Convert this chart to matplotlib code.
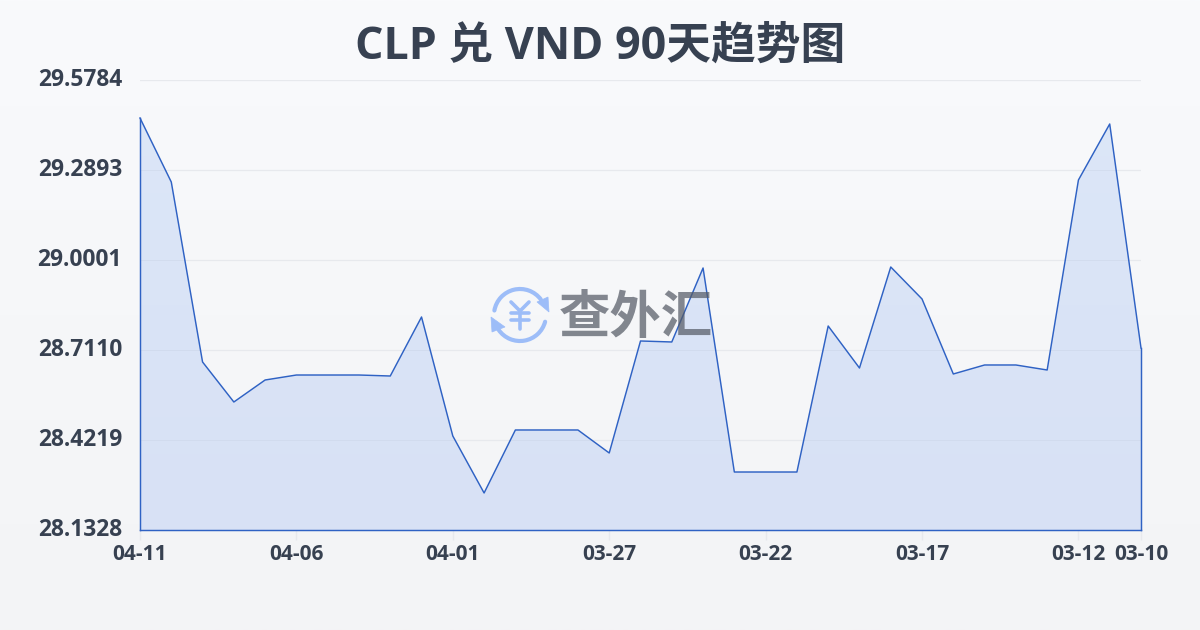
import numpy as np
import matplotlib
matplotlib.use("Agg")
import matplotlib.pyplot as plt
from matplotlib.patches import Arc, Polygon

FONTS = ['Open Sans', 'Noto Sans CJK SC', 'DejaVu Sans']
plt.rcParams['font.family'] = FONTS

TITLE = "CLP 兑 VND 90天趋势图"
dates = ["04-11", "04-10", "04-09", "04-08", "04-07", "04-06", "04-05", "04-04", "04-03", "04-02",
         "04-01", "03-31", "03-30", "03-29", "03-28", "03-27", "03-26", "03-25", "03-24", "03-23",
         "03-22", "03-21", "03-20", "03-19", "03-18", "03-17", "03-16", "03-15", "03-14", "03-13",
         "03-12", "03-11", "03-10"]
rates = [29.4563, 29.2507, 28.6725, 28.5440, 28.6147, 28.6307, 28.6307, 28.6307, 28.6275, 28.8171,
         28.4348, 28.2517, 28.4541, 28.4541, 28.4541, 28.3802, 28.7400, 28.7368, 28.9745, 28.3191,
         28.3191, 28.3191, 28.7881, 28.6532, 28.9777, 28.8749, 28.6340, 28.6629, 28.6629, 28.6468,
         29.2572, 29.4371, 28.7175]
y_ticks = [28.1328, 28.4219, 28.7110, 29.0001, 29.2893, 29.5784]
x_tick_labels = ["04-11", "04-06", "04-01", "03-27", "03-22", "03-17", "03-12", "03-10"]

W, H = 1200, 630
fig = plt.figure(figsize=(W / 100, H / 100), dpi=100)

bg = fig.add_axes([0, 0, 1, 1], zorder=0)
bg.axis("off")
c0, c1 = np.array([0xf9, 0xfa, 0xfc]) / 255, np.array([0xf3, 0xf4, 0xf6]) / 255
t = np.linspace(0, 1, 256)[:, None, None]
bg.imshow(c0 * (1 - t) + c1 * t, aspect="auto", extent=[0, 1, 0, 1])

L, R, T, B = 140, 1141, 80, 530
ax = fig.add_axes([L / W, 1 - B / H, (R - L) / W, (B - T) / H], zorder=1)
ax.patch.set_alpha(0)
x = np.arange(len(rates))
ax.grid(axis="y", color="#e7e9ed", lw=0.9)
ax.set_axisbelow(True)

fill = ax.fill_between(x, rates, y_ticks[0], color="none")
fc0, fc1 = np.array([0xdc, 0xe7, 0xf8]) / 255, np.array([0xd8, 0xe1, 0xf5]) / 255
grad = fc0 * (1 - t) + fc1 * t
im = ax.imshow(grad, aspect="auto", extent=[0, len(rates) - 1, y_ticks[0], y_ticks[-1]], zorder=1.5)
im.set_clip_path(fill.get_paths()[0], ax.transData)
ax.set_xlim(0, len(rates) - 1)
ax.set_ylim(y_ticks[0], y_ticks[-1])
# faint gridlines show through the area in the reference
for v in y_ticks[1:-1]:
    gl = ax.axhline(v, color="#c9d3e6", lw=0.7, alpha=0.45, zorder=1.8)
    gl.set_clip_path(fill.get_paths()[0], ax.transData)

line_c = "#2f62c4"
ax.plot(x, rates, color=line_c, lw=1.05, zorder=3, clip_on=False)
ax.plot([0, 0], [y_ticks[0], rates[0]], color=line_c, lw=1.05, zorder=3, clip_on=False)
ax.plot([x[-1], x[-1]], [y_ticks[0], rates[-1]], color=line_c, lw=1.05, zorder=3, clip_on=False)
ax.plot([0, x[-1]], [y_ticks[0], y_ticks[0]], color=line_c, lw=1.05, zorder=3, clip_on=False)

for s in ax.spines.values():
    s.set_visible(False)

txt = "#374151"
ax.set_yticks(y_ticks)
ax.set_yticklabels([f"{v:.4f}" for v in y_ticks], fontsize=16.4, fontweight="bold", color=txt, va="center")
ax.tick_params(axis="y", length=0, pad=13)

ax.set_xticks([dates.index(d) for d in x_tick_labels])
ax.set_xticklabels(x_tick_labels, fontsize=15, fontweight="bold", color=txt)
ax.tick_params(axis="x", length=7, width=1, color="#e7e9ed", pad=3)

fig.text(600 / W, 1 - 47 / H, TITLE, ha="center", va="center", fontsize=32.2, fontweight="bold", color="#374151")

ov = fig.add_axes([0, 0, 1, 1], zorder=2)
ov.axis("off")
ov.patch.set_alpha(0)
ov.set_xlim(0, W)
ov.set_ylim(H, 0)
blue = "#9dbdf8"
cx, cy, r = 520, 315, 26
ov.add_patch(Arc((cx, cy), 2 * r, 2 * r, theta1=190, theta2=323, color=blue, lw=3, capstyle="round"))
ov.add_patch(Arc((cx, cy), 2 * r, 2 * r, theta1=15, theta2=145, color=blue, lw=3, capstyle="round"))
ov.add_patch(Polygon([[549, 312], [548, 297], [537, 302]], closed=True, fc=blue, ec=blue, lw=0.5))
ov.add_patch(Polygon([[491, 317], [492, 332], [505, 327]], closed=True, fc=blue, ec=blue, lw=0.5))
kw = dict(color=blue, lw=2.6, solid_capstyle="round", solid_joinstyle="round")
ov.plot([511, 520, 529], [302, 311, 302], **kw)
ov.plot([511, 529], [313, 313], **kw)
ov.plot([511, 529], [320, 320], **kw)
ov.plot([520, 520], [311, 329], **kw)
ov.text(636, 317, "查外汇", ha="center", va="center", fontsize=37, fontweight="bold", color="#555b66", alpha=0.72,
        family=['Noto Sans CJK SC'])

fig.savefig("out.png", dpi=100)
